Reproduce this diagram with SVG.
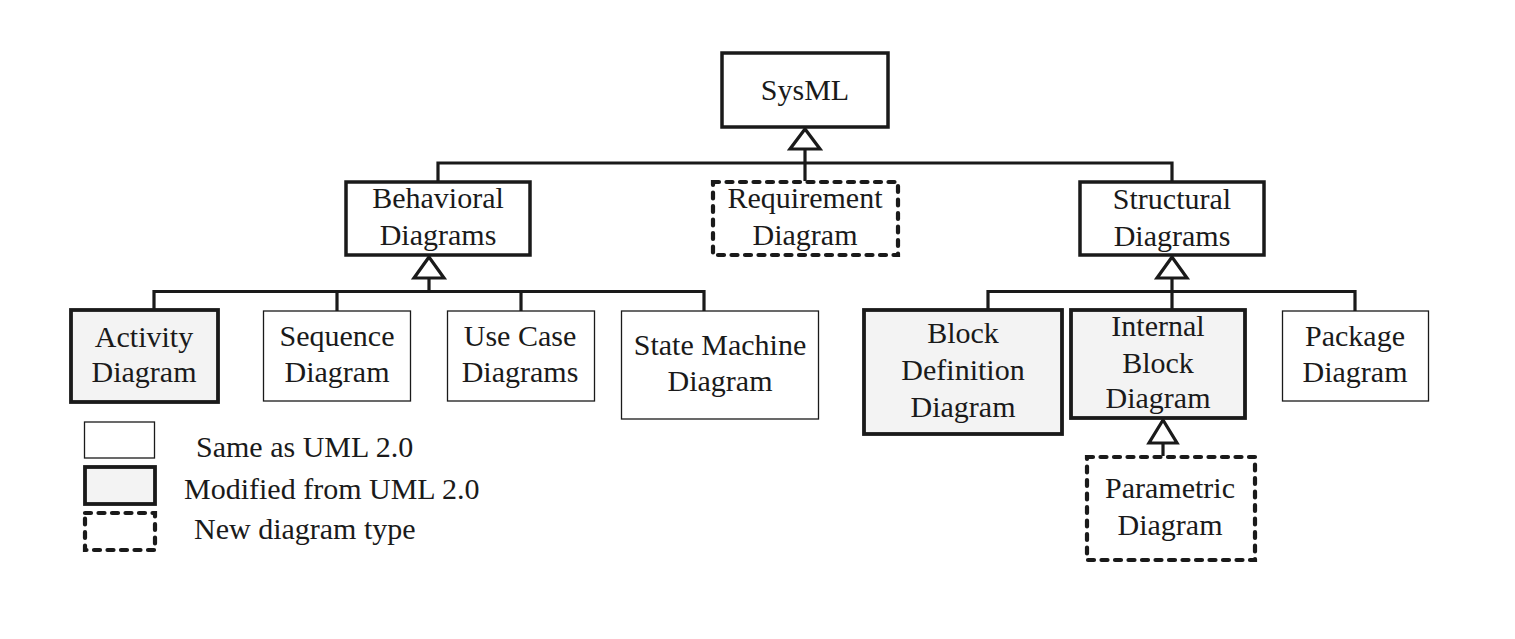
<svg xmlns="http://www.w3.org/2000/svg" width="1515" height="639" viewBox="0 0 1515 639">
<style>
  text { font-family: "Liberation Serif", "Times New Roman", serif; font-size: 30px; fill: #1a1a1a; text-anchor: middle; }
  .lg { text-anchor: start; }
  .thin { fill: #ffffff; stroke: #1a1a1a; stroke-width: 1.3; }
  .thick { fill: #ffffff; stroke: #1a1a1a; stroke-width: 3.5; }
  .mod { fill: #f3f3f3; stroke: #1a1a1a; stroke-width: 3.8; }
  .new { fill: #ffffff; stroke: #1a1a1a; stroke-width: 4.2; stroke-dasharray: 6 7.5; stroke-linecap: round; }
  .ln { fill: none; stroke: #1a1a1a; stroke-width: 3.2; }
  .tri { fill: #ffffff; stroke: #1a1a1a; stroke-width: 3.2; stroke-linejoin: miter; }
</style>
<rect width="1515" height="639" fill="#ffffff"/>

<g id="connectors">
  <polyline class="ln" points="438,181 438,163 1172,163 1172,181"/>
  <line class="ln" x1="805" y1="149" x2="805" y2="181"/>
  <polygon class="tri" points="805,129 790,149 820,149"/>
  <polyline class="ln" points="154,310 154,291.5 704,291.5 704,311"/>
  <line class="ln" x1="429" y1="278" x2="429" y2="291.5"/>
  <line class="ln" x1="337" y1="291.5" x2="337" y2="311"/>
  <line class="ln" x1="521" y1="291.5" x2="521" y2="311"/>
  <polygon class="tri" points="429,257 414,278 444,278"/>
  <polyline class="ln" points="988,310 988,291.5 1355,291.5 1355,311"/>
  <line class="ln" x1="1172" y1="278" x2="1172" y2="310"/>
  <polygon class="tri" points="1172,257 1157,278 1187,278"/>
  <line class="ln" x1="1163" y1="443" x2="1163" y2="456"/>
  <polygon class="tri" points="1163,420 1149,443 1177,443"/>
</g>

<g id="sysml">
  <rect class="thick" x="722" y="53" width="166" height="74"/>
  <text x="805" y="100">SysML</text>
</g>

<g id="behavioral">
  <rect class="thick" x="346" y="182" width="184" height="73"/>
  <text x="438" y="208">Behavioral</text>
  <text x="438" y="245">Diagrams</text>
</g>

<g id="requirement">
  <rect class="new" x="713" y="182" width="185" height="73"/>
  <text x="805" y="208">Requirement</text>
  <text x="805" y="245">Diagram</text>
</g>

<g id="structural">
  <rect class="thick" x="1080" y="182" width="184" height="73"/>
  <text x="1172" y="209">Structural</text>
  <text x="1172" y="246">Diagrams</text>
</g>

<g id="activity">
  <rect class="mod" x="71" y="310" width="147" height="92"/>
  <text x="144" y="347">Activity</text>
  <text x="144" y="382">Diagram</text>
</g>

<g id="sequence">
  <rect class="thin" x="263.5" y="311" width="147" height="90"/>
  <text x="337" y="346">Sequence</text>
  <text x="337" y="382">Diagram</text>
</g>

<g id="usecase">
  <rect class="thin" x="447.5" y="311" width="147" height="90"/>
  <text x="520" y="346">Use Case</text>
  <text x="520" y="382">Diagrams</text>
</g>

<g id="statemachine">
  <rect class="thin" x="621.5" y="311" width="197" height="108"/>
  <text x="720" y="355">State Machine</text>
  <text x="720" y="391">Diagram</text>
</g>

<g id="bdd">
  <rect class="mod" x="864" y="310" width="198" height="124"/>
  <text x="963" y="343">Block</text>
  <text x="963" y="380">Definition</text>
  <text x="963" y="417">Diagram</text>
</g>

<g id="ibd">
  <rect class="mod" x="1071" y="310" width="174" height="108"/>
  <text x="1158" y="336">Internal</text>
  <text x="1158" y="373">Block</text>
  <text x="1158" y="408">Diagram</text>
</g>

<g id="package">
  <rect class="thin" x="1282.5" y="311" width="146" height="90"/>
  <text x="1355" y="346">Package</text>
  <text x="1355" y="382">Diagram</text>
</g>

<g id="parametric">
  <rect class="new" x="1087" y="457" width="168" height="103"/>
  <text x="1170" y="498">Parametric</text>
  <text x="1170" y="535">Diagram</text>
</g>

<g id="legend">
  <rect class="thin" x="84.5" y="422" width="70" height="36"/>
  <text class="lg" x="196" y="457">Same as UML 2.0</text>
  <rect class="mod" x="85" y="467" width="70" height="37"/>
  <text class="lg" x="184" y="499">Modified from UML 2.0</text>
  <rect class="new" x="85" y="513" width="70" height="37"/>
  <text class="lg" x="194" y="539">New diagram type</text>
</g>
</svg>
